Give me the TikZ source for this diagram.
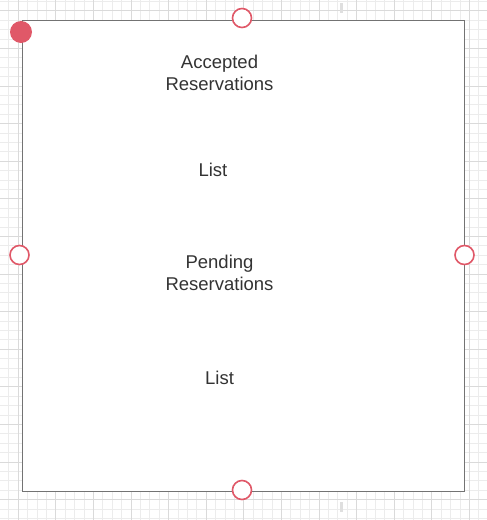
\documentclass[tikz,border=0pt]{standalone}
\usepackage{fontspec}
\setmainfont{Liberation Sans}
\definecolor{handlered}{RGB}{224,88,104}
\definecolor{textgray}{RGB}{51,51,51}
\definecolor{gridminor}{RGB}{236,236,236}
\definecolor{gridmajor}{RGB}{218,218,218}
\begin{document}
\begin{tikzpicture}[x=1pt, y=-1pt,
  listtext/.style={anchor=base, font=\fontsize{18.5}{21.5}\selectfont, align=center, text=textgray},
  handle/.style={circle, draw=handlered, line width=1.6pt, fill=white, minimum size=19pt, inner sep=0pt},
  corner/.style={circle, fill=handlered, minimum size=22pt, inner sep=0pt}]
\useasboundingbox (0,0) rectangle (487,520);

% Background grid
\foreach \x in {8.7,18.1,...,487} \draw[gridminor, line width=0.8pt] (\x,0) -- (\x,520);
\foreach \y in {1.4,10.8,...,520} \draw[gridminor, line width=0.8pt] (0,\y) -- (487,\y);
\foreach \x in {18.1,55.7,...,487} \draw[gridmajor, line width=0.8pt] (\x,0) -- (\x,520);
\foreach \y in {10.8,48.4,...,520} \draw[gridmajor, line width=0.8pt] (0,\y) -- (487,\y);

% Marks above and below the box
\fill[gray!25] (340,3) rectangle (343,13);
\fill[gray!25] (340,502) rectangle (343,512);

% The box
\node[draw=gray!90!black, fill=white, line width=1pt, minimum width=442pt, minimum height=471pt, inner sep=0pt] (listbox) at (243,255.5) {};

% Texts (base = last line)
\node[listtext] (accepted) at (219.5,90) {Accepted\\Reservations};
\node[listtext] (acceptedlist) at (213,176) {List};
\node[listtext] (pending) at (219.5,290) {Pending\\Reservations};
\node[listtext] (pendinglist) at (219.5,384) {List};

% Handles
\node[corner] (handlenw) at (21,32) {};
\node[handle] (handlen) at (242,18) {};
\node[handle] (handlew) at (19.5,255) {};
\node[handle] (handlee) at (464.5,255) {};
\node[handle] (handles) at (242,490) {};
\end{tikzpicture}
\end{document}
